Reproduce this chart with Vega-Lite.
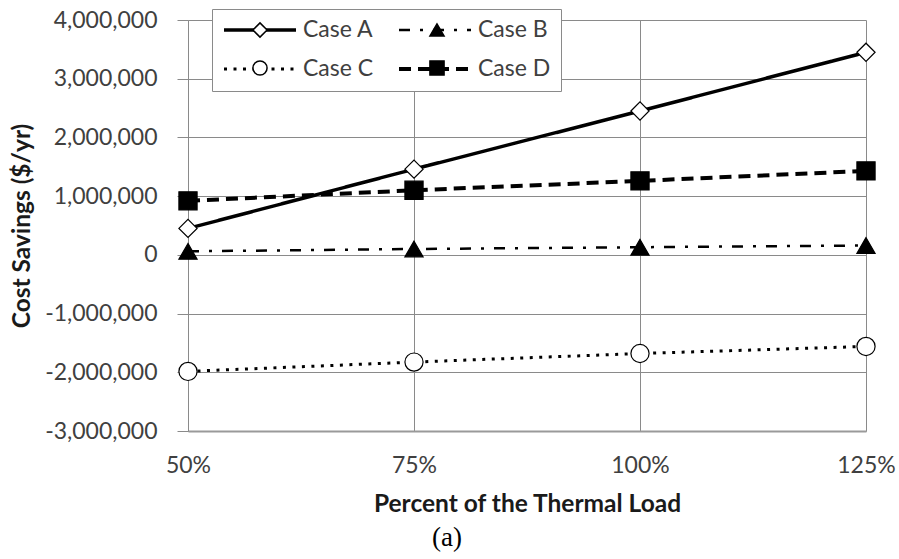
{
  "$schema": "https://vega.github.io/schema/vega-lite/v6.json",
  "width": 678,
  "height": 411,
  "autosize": "none",
  "padding": {"left": 188, "top": 20, "right": 33, "bottom": 128},
  "background": "white",
  "title": {"text": "(a)", "orient": "bottom", "anchor": "middle", "dx": -80, "font": "Liberation Serif", "fontSize": 27, "fontWeight": "normal", "color": "black", "offset": 9},
  "config": {"view": {"stroke": null}, "font": "Lato"},
  "data": {"values": [
    {"pct": 50, "case": "Case A", "value": 450000},
    {"pct": 75, "case": "Case A", "value": 1460000},
    {"pct": 100, "case": "Case A", "value": 2450000},
    {"pct": 125, "case": "Case A", "value": 3450000},
    {"pct": 50, "case": "Case B", "value": 60000},
    {"pct": 75, "case": "Case B", "value": 100000},
    {"pct": 100, "case": "Case B", "value": 130000},
    {"pct": 125, "case": "Case B", "value": 160000},
    {"pct": 50, "case": "Case C", "value": -1985000},
    {"pct": 75, "case": "Case C", "value": -1826000},
    {"pct": 100, "case": "Case C", "value": -1680000},
    {"pct": 125, "case": "Case C", "value": -1560000},
    {"pct": 50, "case": "Case D", "value": 920000},
    {"pct": 75, "case": "Case D", "value": 1100000},
    {"pct": 100, "case": "Case D", "value": 1260000},
    {"pct": 125, "case": "Case D", "value": 1430000}
  ]},
  "encoding": {
    "x": {"field": "pct", "type": "quantitative",
      "scale": {"domain": [50, 125], "nice": false, "zero": false},
      "axis": {"values": [50, 75, 100, 125], "labelExpr": "datum.value + '%'", "labelFlush": false,
        "ticks": false, "tickSize": 0, "labelPadding": 23, "labelFont": "Lato", "labelFontSize": 23, "labelColor": "#404040",
        "grid": true, "gridColor": "#8a8a8a", "gridWidth": 1, "domain": true, "domainColor": "#9a9a9a", "domainWidth": 2,
        "title": "Percent of the Thermal Load", "titleFont": "Lato", "titleFontSize": 24.5, "titleFontWeight": "bold", "titleColor": "#1a1a1a", "titlePadding": 15}},
    "y": {"field": "value", "type": "quantitative",
      "scale": {"domain": [-3000000, 4000000], "nice": false, "zero": false},
      "axis": {"values": [-3000000, -2000000, -1000000, 0, 1000000, 2000000, 3000000, 4000000],
        "labelExpr": "replace(format(datum.value, ','), '\u2212', '-')",
        "ticks": true, "tickSize": 11, "tickColor": "#8a8a8a", "labelPadding": 20, "labelFont": "Lato", "labelFontSize": 23, "labelColor": "#404040",
        "grid": true, "gridColor": "#8a8a8a", "gridWidth": 1, "domain": true, "domainColor": "#8a8a8a",
        "title": "Cost Savings ($/yr)", "titleFont": "Lato", "titleFontSize": 24.5, "titleFontWeight": "bold", "titleColor": "#1a1a1a", "titlePadding": 10}}
  },
  "layer": [
    {
      "mark": {"type": "line", "color": "black", "strokeCap": "butt"},
      "encoding": {
        "strokeDash": {"field": "case", "type": "nominal",
          "scale": {"domain": ["Case A", "Case B", "Case C", "Case D"], "range": [[1, 0], [11, 10, 3, 10], [3, 6.5], [12, 7]]},
          "legend": {"title": null, "orient": "none", "direction": "horizontal", "legendX": 24, "legendY": -11, "columns": 2, "symbolType": "stroke", "symbolSize": 5184,
            "symbolStrokeColor": "black", "clipHeight": 22, "labelFont": "Lato", "labelFontSize": 23, "labelColor": "#404040", "labelOffset": 5,
            "columnPadding": 23, "rowPadding": 16, "padding": 10, "strokeColor": "#8a8a8a", "fillColor": "white", "zindex": 1}},
        "strokeWidth": {"field": "case", "type": "nominal",
          "scale": {"type": "ordinal", "domain": ["Case A", "Case B", "Case C", "Case D"], "range": [3.5, 2.5, 3, 4]},
          "legend": {"title": null, "orient": "none", "direction": "horizontal", "legendX": 24, "legendY": -11, "columns": 2, "symbolType": "stroke", "symbolSize": 5184,
            "symbolStrokeColor": "black", "clipHeight": 22, "labelFont": "Lato", "labelFontSize": 23, "labelColor": "#404040", "labelOffset": 5,
            "columnPadding": 23, "rowPadding": 16, "padding": 10, "strokeColor": "#8a8a8a", "fillColor": "white", "zindex": 1}}
      }
    },
    {
      "mark": {"type": "point", "filled": true, "stroke": "black", "strokeWidth": 1.2, "size": 330, "opacity": 1},
      "encoding": {
        "shape": {"field": "case", "type": "nominal",
          "scale": {"range": ["diamond", "triangle-up", "circle", "square"]},
          "legend": {"title": null, "orient": "none", "direction": "horizontal", "legendX": 24, "legendY": -11, "columns": 2, "symbolSize": 200,
            "clipHeight": 22, "labelFont": "Lato", "labelFontSize": 22, "labelExpr": "''",
            "symbolOffset": 27, "labelOffset": 61, "columnPadding": 67, "rowPadding": 16, "padding": 10, "zindex": 2,
            "encode": {"symbols": {
              "enter": {"stroke": {"value": "black"}, "strokeWidth": {"value": 1.3}},
              "update": {"stroke": {"value": "black"}, "strokeWidth": {"value": 1.3}, "opacity": {"value": 1},
                "fill": {"signal": "datum.value === 'Case B' || datum.value === 'Case D' ? 'black' : 'white'"}}}}}},
        "fill": {"field": "case", "type": "nominal",
          "scale": {"range": ["white", "black", "white", "black"]},
          "legend": null}
      }
    }
  ]
}
